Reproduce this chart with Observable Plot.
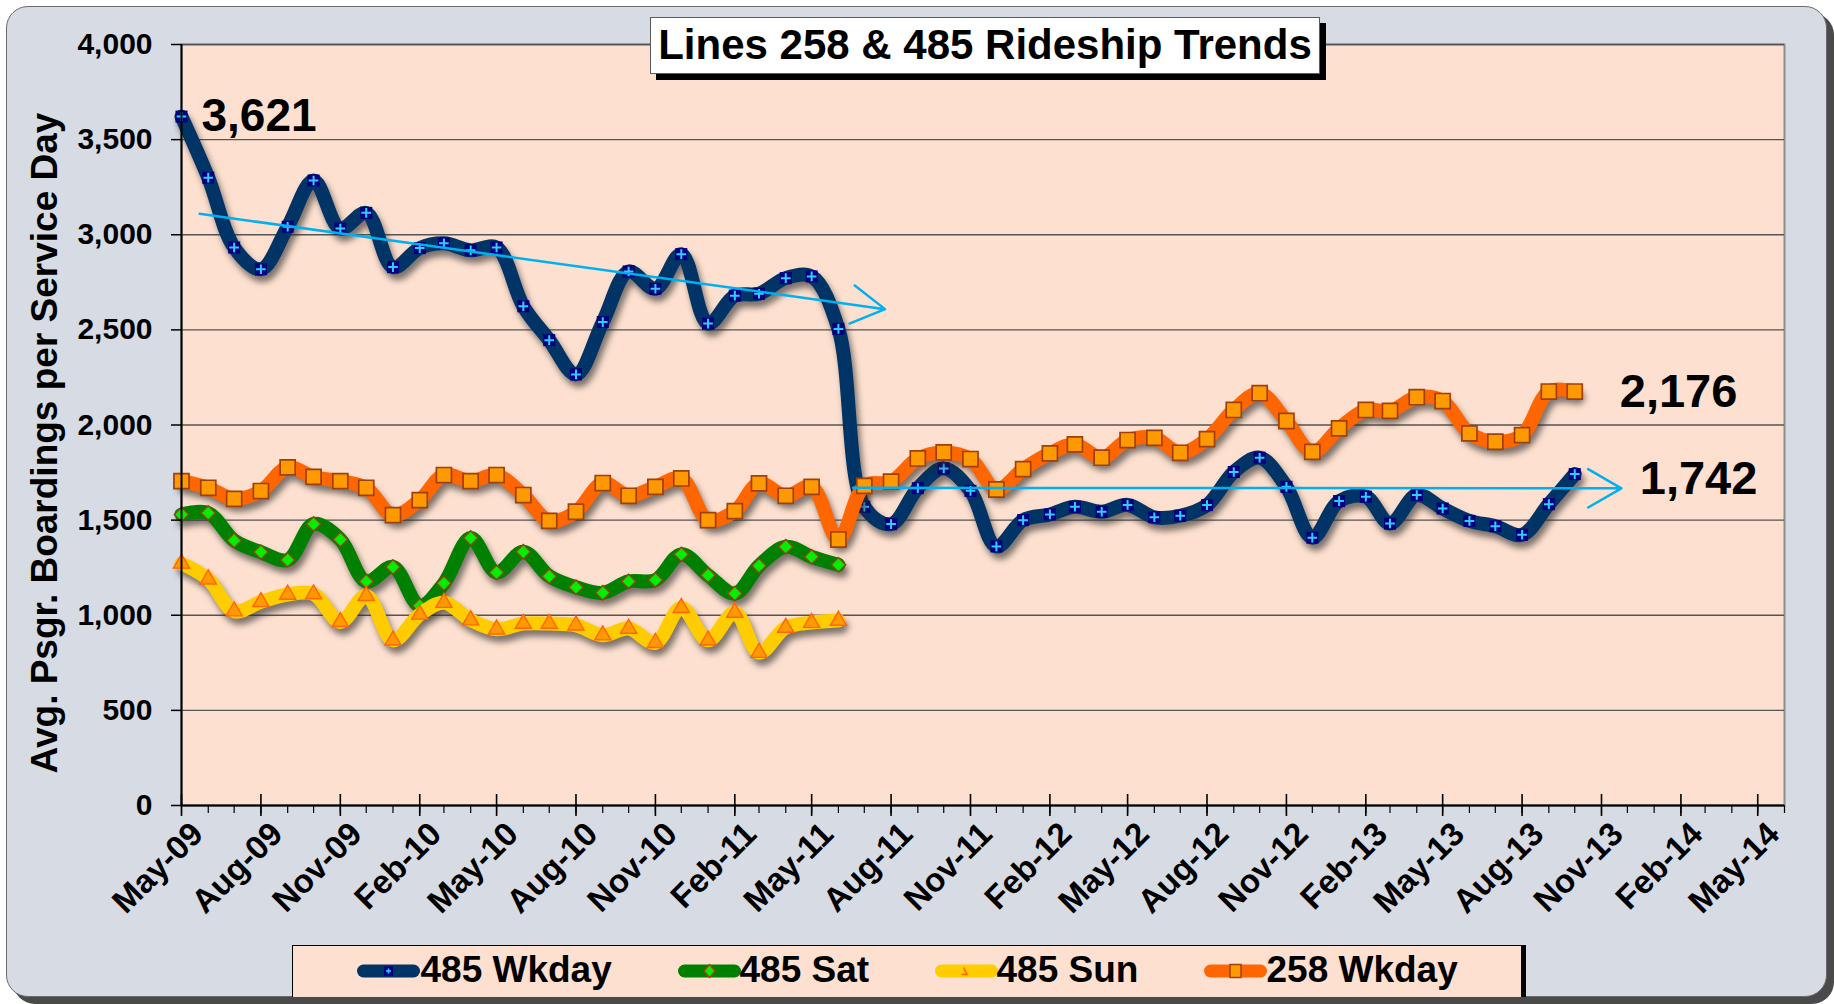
<!DOCTYPE html>
<html><head><meta charset="utf-8">
<script src="https://cdn.jsdelivr.net/npm/d3@7"></script>
<script src="https://cdn.jsdelivr.net/npm/@observablehq/plot@0.6"></script>
<style>
html,body{margin:0;padding:0;background:#fff;}
#wrap{position:relative;width:1834px;height:1004px;overflow:hidden;font-family:"Liberation Sans",Arial,sans-serif;color:#000;}
#frame{position:absolute;left:6px;top:6px;width:1821px;height:991px;box-sizing:border-box;background:#d7dbe3;border:1.5px solid #6b6b6b;border-radius:22px;box-shadow:7px 7px 0 #4a4a4a;}
#chart{position:absolute;left:0;top:0;}
#ylabel{position:absolute;left:43.7px;top:443px;transform:translate(-50%,-50%) rotate(-90deg);font-size:37px;font-weight:bold;line-height:1;white-space:nowrap;}
#title{position:absolute;left:650px;top:17px;width:670px;height:57px;box-sizing:border-box;background:#fff;border:1.5px solid #5a5a5a;box-shadow:6px 6px 0 #000;font-size:42px;font-weight:bold;line-height:54px;text-align:center;white-space:nowrap;}
#legend{position:absolute;left:292px;top:945px;width:1229px;height:52px;box-sizing:border-box;background:#fde0cf;border-top:1.5px solid #000;border-left:1.5px solid #000;box-shadow:5px 0 0 #000;}
.sw{position:absolute;top:16px;}
.lt{position:absolute;top:5px;font-size:37px;font-weight:bold;line-height:37px;white-space:nowrap;}
</style>
</head>
<body>
<div id="wrap">
  <div id="frame"></div>
  <div id="chart"></div>
  <div id="ylabel">Avg. Psgr. Boardings per Service Day</div>
  <div id="title">Lines 258 &amp; 485 Rideship Trends</div>
  <div id="legend"></div>
</div>
<script>
// ---- data ----
const months = [
  "2009-05","2009-06","2009-07","2009-08","2009-09","2009-10","2009-11","2009-12",
  "2010-01","2010-02","2010-03","2010-04","2010-05","2010-06","2010-07","2010-08","2010-09","2010-10","2010-11","2010-12",
  "2011-01","2011-02","2011-03","2011-04","2011-05","2011-06","2011-07","2011-08","2011-09","2011-10","2011-11","2011-12",
  "2012-01","2012-02","2012-03","2012-04","2012-05","2012-06","2012-07","2012-08","2012-09","2012-10","2012-11","2012-12",
  "2013-01","2013-02","2013-03","2013-04","2013-05","2013-06","2013-07","2013-08","2013-09","2013-10"
];
const wkday485 = [
  3621,3300,2933,2819,3042,3285,3033,3115,
  2830,2930,2955,2918,2933,2624,2446,2266,2541,2807,2716,2898,
  2533,2680,2690,2772,2781,2505,1570,1479,1668,1772,1654,1362,
  1500,1530,1570,1544,1580,1515,1523,1579,1753,1828,1675,1408,
  1600,1623,1482,1632,1561,1496,1468,1423,1584,1742
];
const sat485 = [
  1530,1538,1393,1332,1291,1480,1398,1178,
  1254,1050,1168,1406,1225,1334,1205,1147,1118,1178,1185,1320,
  1210,1114,1260,1360,1307,1265
];
const sun485 = [
  1272,1189,1021,1070,1109,1111,965,1102,
  868,1004,1066,974,926,956,956,947,895,930,855,1039,
  868,1014,803,935,961,972
];
const wkday258 = [
  1705,1670,1612,1653,1777,1727,1705,1670,
  1526,1605,1737,1705,1737,1632,1496,1544,1695,1628,1675,1719,
  1500,1547,1693,1628,1675,1398,1680,1702,1824,1856,1821,1661,
  1768,1851,1898,1828,1921,1932,1854,1926,2079,2167,2021,1859,
  1982,2079,2074,2146,2126,1956,1912,1947,2176,2176
];
const seriesNames = ["485 Wkday","485 Sat","485 Sun","258 Wkday"];
const seriesColors = ["#003366","#008000","#ffcc00","#ff6600"];
const yTicks = [0,500,1000,1500,2000,2500,3000,3500,4000];
const xTicks = ["2009-05","2009-08","2009-11","2010-02","2010-05","2010-08","2010-11","2011-02","2011-05",
  "2011-08","2011-11","2012-02","2012-05","2012-08","2012-11","2013-02","2013-05","2013-08","2013-11","2014-02","2014-05"];
const xDomain = ["2009-05","2014-06"];
const trendStartDates = ["2009-05-22","2011-06-18"];
const trendStartValues = [3110,1670];
const trendEndDates = ["2011-07-25","2013-11-24"];
const trendEndValues = [2609,1667];
const calloutMonths = ["2009-05","2013-10","2013-10"];
const calloutValues = [3621,2176,1742];
const calloutTexts = ["3,621","2,176","1,742"];

// ---- build ----
const pm = d3.utcParse("%Y-%m"), pd = d3.utcParse("%Y-%m-%d");
const rows = (vals) => vals.map((v,i) => ({date: pm(months[i]), value: v}));
const r485w = rows(wkday485), r485sa = rows(sat485), r485su = rows(sun485), r258 = rows(wkday258);
const xDom = xDomain.map(pm);
const xTickDates = xTicks.map(pm);
const minorTicks = d3.utcMonth.range(xDom[0], d3.utcMonth.offset(xDom[1], 1));
const trends = trendStartDates.map((d,i) => ({x1: pd(d), y1: trendStartValues[i], x2: pd(trendEndDates[i]), y2: trendEndValues[i]}));
const callouts = calloutMonths.map((m,i) => ({date: pm(m), value: calloutValues[i], text: calloutTexts[i]}));
const X = "date", Y = "value";

const plot = Plot.plot({
  width: 1834, height: 945,
  marginLeft: 181, marginRight: 50, marginTop: 44, marginBottom: 140,
  style: {background: "transparent", fontFamily: "Liberation Sans, Arial, sans-serif", fontWeight: "bold", color: "#000", overflow: "visible"},
  x: {type: "utc", domain: xDom, axis: null, label: null},
  y: {domain: [0, 4000], axis: null, label: null},
  marks: [
    Plot.frame({fill: "#fde0cf", stroke: "#8c8c8c", strokeWidth: 2}),
    Plot.gridY(yTicks, {stroke: "#555", strokeOpacity: 1, strokeWidth: 1.3}),
    // 485 Wkday
    Plot.lineY(r485w, {x: X, y: Y, stroke: seriesColors[0], strokeWidth: 14, curve: "catmull-rom"}),
    Plot.dot(r485w, {x: X, y: Y, symbol: "square", r: 6.8, fill: "#000080"}),
    Plot.dot(r485w, {x: X, y: Y, symbol: "plus", r: 3.2, stroke: "#33ccff", strokeWidth: 2}),
    // 485 Sat
    Plot.lineY(r485sa, {x: X, y: Y, stroke: seriesColors[1], strokeWidth: 14, curve: "catmull-rom"}),
    Plot.dot(r485sa, {x: X, y: Y, symbol: "diamond2", r: 6.5, fill: "#00ee00", stroke: "#8b4513", strokeWidth: 1.4}),
    // 485 Sun
    Plot.lineY(r485su, {x: X, y: Y, stroke: seriesColors[2], strokeWidth: 14, curve: "catmull-rom"}),
    Plot.dot(r485su, {x: X, y: Y, symbol: "triangle", r: 6, fill: "#ff9900", stroke: "#ff6600", strokeWidth: 1.4}),
    // 258 Wkday
    Plot.lineY(r258, {x: X, y: Y, stroke: seriesColors[3], strokeWidth: 14, curve: "catmull-rom"}),
    Plot.dot(r258, {x: X, y: Y, symbol: "square", r: 8.5, fill: "#ff9900", stroke: "#a0400a", strokeWidth: 1.7}),
    // trend arrows
    Plot.arrow(trends, {x1: "x1", y1: "y1", x2: "x2", y2: "y2", stroke: "#00b0f0", strokeWidth: 2.5, headLength: 23, headAngle: 60}),
    // axes
    Plot.ruleX([xDom[0]], {stroke: "#000", strokeWidth: 2}),
    Plot.ruleY([0], {stroke: "#000", strokeWidth: 2}),
    Plot.tickX(minorTicks, {x: d => d, stroke: "#000", strokeWidth: 1.2, insetTop: 761, insetBottom: -8}),
    Plot.tickX(xTickDates, {x: d => d, stroke: "#000", strokeWidth: 1.6, insetTop: 750, insetBottom: -11}),
    Plot.axisY(yTicks, {tickSize: 10, tickPadding: 19, tickFormat: d3.format(","), fontSize: 30, fontWeight: "bold", strokeWidth: 1.5, label: null}),
    Plot.axisX(xTickDates, {tickSize: 0, tickRotate: -45, tickPadding: 23, dx: 16, tickFormat: d3.utcFormat("%b-%y"), fontSize: 33, fontWeight: "bold", label: null}),
    // callouts
    Plot.text([callouts[0]], {x: X, y: Y, text: "text", dx: 20, textAnchor: "start", fontSize: 46, fontWeight: "bold"}),
    Plot.text([callouts[1]], {x: X, y: Y, text: "text", dx: 45, textAnchor: "start", fontSize: 47, fontWeight: "bold"}),
    Plot.text([callouts[2]], {x: X, y: Y, text: "text", dx: 65, dy: 5, textAnchor: "start", fontSize: 47, fontWeight: "bold"})
  ]
});
plot.querySelectorAll('g[aria-label="line"]').forEach(g => g.style.filter = "drop-shadow(3px 6px 3px rgba(40,40,40,0.6))");
document.getElementById("chart").appendChild(plot);

// ---- legend ----
const legendSwatchX = [63.5, 384.5, 641.5, 910.5];
const legendTextX = [127.5, 446.5, 703.5, 973.5];
const markerSvg = [
  '<rect x="27" y="4.5" width="9" height="9" fill="#000080"/><path d="M31.5 6.5v5M29 9h5" stroke="#33ccff" stroke-width="1.6"/>',
  '<path d="M31.5 2.5L37 9L31.5 15.5L26 9Z" fill="#00ee00" stroke="#c0300a" stroke-width="1.2"/>',
  '<path d="M28.5 5.5L32 12.5L26.5 12.5" fill="none" stroke="#ff6600" stroke-width="1.6"/>',
  '<rect x="26" y="2.5" width="11" height="13" fill="#ff9900" stroke="#a0400a" stroke-width="1.5"/>'
];
const leg = document.getElementById("legend");
seriesNames.forEach((name, i) => {
  const s = document.createElement("div");
  s.className = "sw";
  s.style.left = legendSwatchX[i] + "px";
  s.innerHTML = `<svg width="63" height="18"><line x1="6.5" y1="9" x2="56.5" y2="9" stroke="${seriesColors[i]}" stroke-width="13" stroke-linecap="round"/>${markerSvg[i]}</svg>`;
  leg.appendChild(s);
  const t = document.createElement("div");
  t.className = "lt";
  t.style.left = legendTextX[i] + "px";
  t.textContent = name;
  leg.appendChild(t);
});
</script>
</body></html>
